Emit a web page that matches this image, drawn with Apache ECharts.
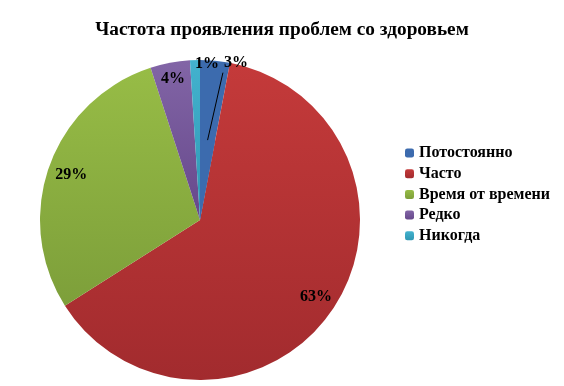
<!DOCTYPE html>
<html><head><meta charset="utf-8">
<script src="https://cdn.jsdelivr.net/npm/echarts@6/dist/echarts.min.js"></script>
<style>html,body{margin:0;padding:0;background:#fff}#c{width:564px;height:386px}</style>
</head><body><div id="c"></div>
<script>
const titleText = 'Частота проявления проблем со здоровьем';
const categories = ['Потостоянно', 'Часто', 'Время от времени', 'Редко', 'Никогда'];
const values = [3, 63, 29, 4, 1];
const colorsTop = ['#3C6BAE', '#C43A3A', '#97BC46', '#8265A6', '#43B2CE'];
const colorsBottom = ['#3C6BAE', '#A22B2E', '#7D9F3A', '#66488B', '#2F97B3'];
const font = '"Liberation Serif", "DejaVu Serif", serif';

function grad(i){
  return new echarts.graphic.LinearGradient(0,0,0,1,[{offset:0,color:colorsTop[i]},{offset:1,color:colorsBottom[i]}]);
}
const center = [200, 220];
const labelStyle = {formatter:'{c}%', fontFamily:font, fontSize:16, fontWeight:'bold', color:'#000'};
const mainData = categories.map((n,i)=>({name:n, value:values[i], itemStyle:{color:grad(i)}}));
const labelOffsets = [null, [1,-1], [2,2], [-1,-5], null];
const innerData = categories.map((n,i)=>({
  name:n, value:values[i],
  itemStyle:{color:'rgba(0,0,0,0)'},
  label:{show: i===1 || i===2 || i===3, offset: labelOffsets[i] || [0,0]}
}));
const leaderData = categories.map((n,i)=>({
  name:n, value:values[i],
  itemStyle:{color: i===0 ? colorsTop[0] : 'rgba(0,0,0,0)'},
  label:{show: i===0},
  labelLine:{show: i===0, lineStyle:{color:'#000', width:1, opacity:1}}
}));
const edgeData = categories.map((n,i)=>({
  name:n, value:values[i],
  itemStyle:{color:'rgba(0,0,0,0)'},
  label:{show: i===4},
  labelLine:{show: false}
}));
const chart = echarts.init(document.getElementById('c'));
chart.setOption({
  animation:false,
  title:{text:titleText, left:'center', top:16, textStyle:{fontFamily:font, fontSize:19.3, fontWeight:'bold', color:'#000'}},
  legend:{
    orient:'vertical', left:405, top:145, padding:0, itemWidth:9, itemHeight:9, itemGap:4.7,
    data:categories, selectedMode:false,
    textStyle:{fontFamily:font, fontSize:16, fontWeight:'bold', color:'#000'}
  },
  series:[
    {type:'pie', center:center, radius:160, startAngle:90, clockwise:true, data:mainData,
     label:{show:false}, labelLine:{show:false}, silent:true},
    {type:'pie', center:center, radius:[112,160], startAngle:90, clockwise:true, data:innerData,
     avoidLabelOverlap:false, silent:true, legendHoverLink:false,
     label:Object.assign({position:'inside'}, labelStyle),
     labelLine:{show:false}},
    {type:'pie', center:center, radius:80, startAngle:90, clockwise:true, data:leaderData,
     avoidLabelOverlap:false, silent:true, legendHoverLink:false, z:5,
     label:Object.assign({position:'outside', distanceToLabelLine:1}, labelStyle),
     labelLine:{show:true, length:68, length2:0, smooth:false, minTurnAngle:0, maxSurfaceAngle:180, lineStyle:{color:'#000', width:1, opacity:1}},
     labelLayout:function(p){
       if (p.dataIndex !== 0 || !p.labelLinePoints) return {};
       const pts = p.labelLinePoints;
       const end = pts[pts.length-1];
       return {dx:9, dy:-10, labelLinePoints:[pts[0], [end[0]+9, end[1]]]};
     }},
    {type:'pie', center:center, radius:150, startAngle:90, clockwise:true, data:edgeData,
     avoidLabelOverlap:false, silent:true, legendHoverLink:false,
     label:Object.assign({position:'outside', distanceToLabelLine:0}, labelStyle),
     labelLine:{show:false, length:6, length2:0},
     labelLayout:function(p){ return p.dataIndex===4 ? {align:'left'} : {}; }}
  ]
});
</script></body></html>
